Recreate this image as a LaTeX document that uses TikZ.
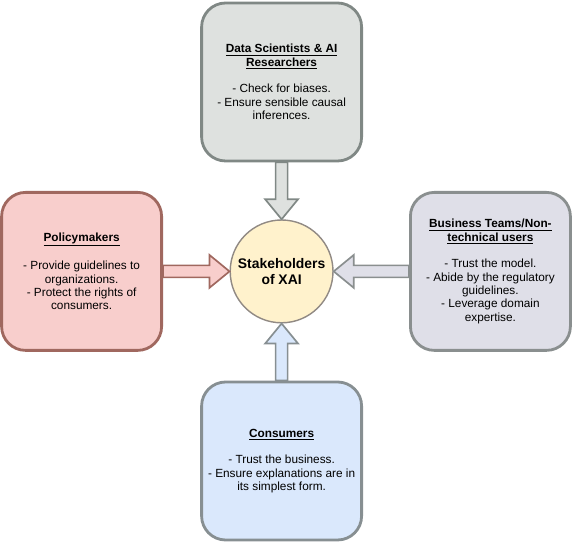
\documentclass[tikz,border=0pt]{standalone}
\usepackage{fontspec}
\setmainfont{Liberation Sans}
\usetikzlibrary{calc, positioning}
\definecolor{scifill}{RGB}{222,225,223}
\definecolor{scidraw}{RGB}{128,136,133}
\definecolor{polfill}{RGB}{248,206,204}
\definecolor{poldraw}{RGB}{160,104,95}
\definecolor{busfill}{RGB}{223,223,232}
\definecolor{busdraw}{RGB}{138,143,143}
\definecolor{confill}{RGB}{218,232,252}
\definecolor{condraw}{RGB}{135,143,146}
\definecolor{xaifill}{RGB}{255,242,204}
\definecolor{xaidraw}{RGB}{145,138,132}
\newcommand{\pusharrow}[4]
{
	\coordinate (s) at (#3);
	\coordinate (h) at ($(#4)!0.5cm!(#3)$);
	\draw[line width=1.2pt, draw=#1, fill=#2] ($(s)!0.15cm!90:(#4)$) -- ($(h)!0.15cm!90:(#4)$) -- ($(h)!0.41cm!90:(#4)$) -- (#4) -- ($(h)!0.41cm!-90:(#4)$) -- ($(h)!0.15cm!-90:(#4)$) -- ($(s)!0.15cm!-90:(#4)$) -- cycle
}

\begin{document}
\begin{tikzpicture}[
	every node/.append style={align=center,
		font=\fontsize{8.4}{9.5}\selectfont},
	role/.style={shape=rectangle, rounded corners=0.6cm,
		line width=2pt, minimum width=4.0cm,
		minimum height=3.95cm}]

	\useasboundingbox (0,0) rectangle (14.325,13.575);

	\node[role, draw=scidraw, fill=scifill] at (7.04, 11.525) (sci){\underline{\textbf{Data Scientists \& AI}}\\\underline{\textbf{Researchers}}\\[9.5pt]- Check for biases.\\- Ensure sensible causal\\inferences.};
	\node[role, draw=poldraw, fill=polfill] at (2.04, 6.79) (pol){\underline{\textbf{Policymakers}}\\[9.5pt]- Provide guidelines to\\organizations.\\- Protect the rights of\\consumers.};
	\node[role, draw=busdraw, fill=busfill] at (12.26, 6.79) (bus){\underline{\textbf{Business Teams/Non-}}\\\underline{\textbf{technical users}}\\[9.5pt]- Trust the model.\\- Abide by the regulatory\\guidelines.\\- Leverage domain\\expertise.};
	\node[role, draw=condraw, fill=confill] at (7.04, 2.05) (con){\underline{\textbf{Consumers}}\\[9.5pt]- Trust the business.\\- Ensure explanations are in\\its simplest form.};
	\node[shape=circle, minimum size=2.5cm, line width=1pt, draw=xaidraw, fill=xaifill, font=\fontsize{9.9}{11}\selectfont\bfseries] at (7.04, 6.79) (xai){Stakeholders\\of XAI};

	\pusharrow{scidraw}{scifill}{sci.south}{xai.north};
	\pusharrow{poldraw}{polfill}{pol.east}{xai.west};
	\pusharrow{busdraw}{busfill}{bus.west}{xai.east};
	\pusharrow{condraw}{confill}{con.north}{xai.south};
\end{tikzpicture}
\end{document}
